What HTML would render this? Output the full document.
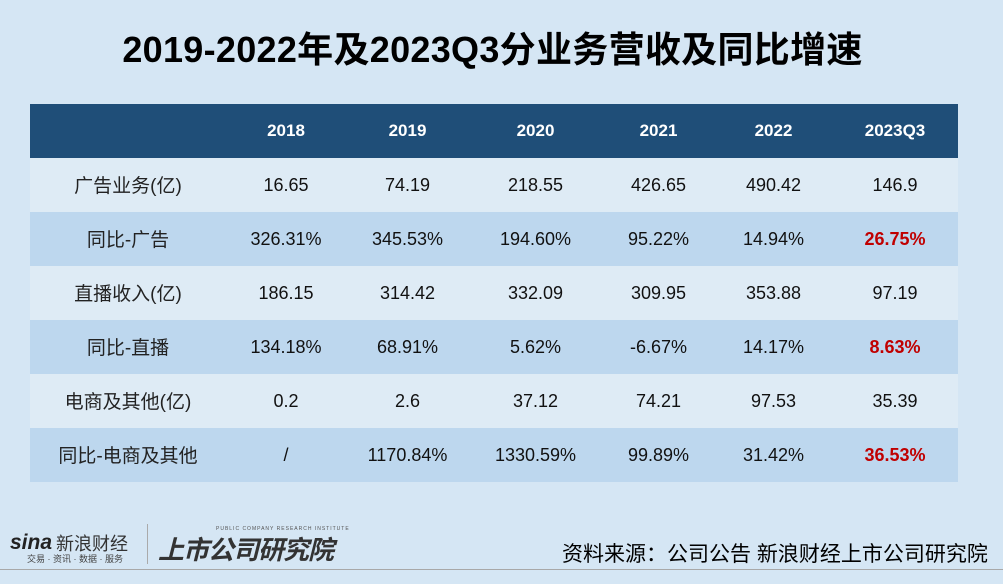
<!DOCTYPE html>
<html><head><meta charset="utf-8"><style>
body{margin:0;width:1003px;height:584px;background:#d5e6f4;font-family:"Liberation Sans","Noto Sans CJK SC",sans-serif;position:relative;overflow:hidden}
.title{position:absolute;top:30px;left:-9px;width:1003px;text-align:center;font-size:36px;line-height:40px;font-weight:bold;color:#000;letter-spacing:0.3px}
table{position:absolute;left:30px;top:104px;width:928px;border-collapse:collapse}
td,th{height:54px;padding:0;text-align:center;font-size:18px;color:#111;vertical-align:top}
td div,th div{height:54px;line-height:54px;overflow:hidden}
td:first-child{font-size:19px;color:#222}
td:first-child div{position:relative;top:2px}
th{background:#1f4e78;color:#fff;font-weight:bold;font-size:17px}
tr.a td{background:#deebf5}
tr.b td{background:#bdd7ee}
td.r{color:#c00000;font-weight:bold}
.src{position:absolute;left:562px;top:538px;font-size:21px;color:#000;white-space:nowrap}
.line{position:absolute;left:0;top:569px;width:1003px;height:1px;background:#a8a8a8}
.sina{position:absolute;left:10px;top:531px;font-size:21px;font-weight:bold;font-style:italic;color:#222}
.sina2{position:absolute;left:56px;top:530px;font-size:18px;color:#333}
.sub{position:absolute;left:27px;top:552px;font-size:9px;color:#444}
.vl{position:absolute;left:147px;top:524px;width:1px;height:40px;background:#aaa}
.ssgs{position:absolute;left:158px;top:530px;font-size:26px;font-weight:bold;font-style:italic;color:#333;letter-spacing:-1px}
.pc{position:absolute;left:216px;top:526px;font-size:5px;color:#555;letter-spacing:1px}
</style></head><body>
<div class="title">2019-2022年及2023Q3分业务营收及同比增速</div>
<table>
<colgroup><col style="width:196px"><col style="width:120px"><col style="width:123px"><col style="width:133px"><col style="width:113px"><col style="width:117px"><col></colgroup>
<tr><th><div></div></th><th><div>2018</div></th><th><div>2019</div></th><th><div>2020</div></th><th><div>2021</div></th><th><div>2022</div></th><th><div>2023Q3</div></th></tr>
<tr class="a"><td><div>广告业务(亿)</div></td><td><div>16.65</div></td><td><div>74.19</div></td><td><div>218.55</div></td><td><div>426.65</div></td><td><div>490.42</div></td><td><div>146.9</div></td></tr>
<tr class="b"><td><div>同比-广告</div></td><td><div>326.31%</div></td><td><div>345.53%</div></td><td><div>194.60%</div></td><td><div>95.22%</div></td><td><div>14.94%</div></td><td class="r"><div>26.75%</div></td></tr>
<tr class="a"><td><div>直播收入(亿)</div></td><td><div>186.15</div></td><td><div>314.42</div></td><td><div>332.09</div></td><td><div>309.95</div></td><td><div>353.88</div></td><td><div>97.19</div></td></tr>
<tr class="b"><td><div>同比-直播</div></td><td><div>134.18%</div></td><td><div>68.91%</div></td><td><div>5.62%</div></td><td><div>-6.67%</div></td><td><div>14.17%</div></td><td class="r"><div>8.63%</div></td></tr>
<tr class="a"><td><div>电商及其他(亿)</div></td><td><div>0.2</div></td><td><div>2.6</div></td><td><div>37.12</div></td><td><div>74.21</div></td><td><div>97.53</div></td><td><div>35.39</div></td></tr>
<tr class="b"><td><div>同比-电商及其他</div></td><td><div>/</div></td><td><div>1170.84%</div></td><td><div>1330.59%</div></td><td><div>99.89%</div></td><td><div>31.42%</div></td><td class="r"><div>36.53%</div></td></tr>
</table>
<div class="sina">sina</div><div class="sina2">新浪财经</div><div class="sub">交易 · 资讯 · 数据 · 服务</div>
<div class="vl"></div>
<div class="pc">PUBLIC COMPANY RESEARCH INSTITUTE</div>
<div class="ssgs">上市公司研究院</div>
<div class="src">资料来源：公司公告 新浪财经上市公司研究院</div>
<div class="line"></div>
</body></html>
